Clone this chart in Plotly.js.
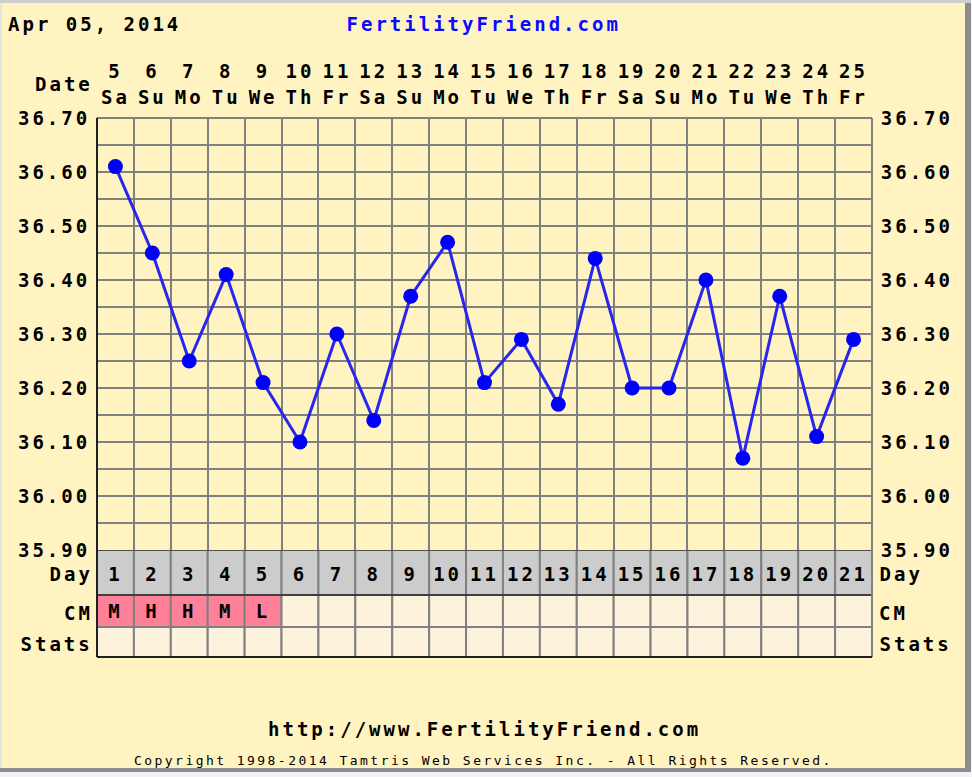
<!DOCTYPE html>
<html>
<head>
<meta charset="utf-8">
<script src="https://cdn.plot.ly/plotly-3.0.1.min.js"></script>
<style>
  html, body { margin: 0; padding: 0; background: #f2f2f6; }
  #chart { width: 972px; height: 777px; }
  .main-svg text { letter-spacing: 3px; }
</style>
</head>
<body>
<div id="chart"></div>
<script>
// ---- data ----
const chartDate = 'Apr 05, 2014';
const cycleDays = [1, 2, 3, 4, 5, 6, 7, 8, 9, 10, 11, 12, 13, 14, 15, 16, 17, 18, 19, 20, 21];
const dates = [5, 6, 7, 8, 9, 10, 11, 12, 13, 14, 15, 16, 17, 18, 19, 20, 21, 22, 23, 24, 25];
const weekdays = ['Sa', 'Su', 'Mo', 'Tu', 'We', 'Th', 'Fr', 'Sa', 'Su', 'Mo', 'Tu', 'We', 'Th', 'Fr', 'Sa', 'Su', 'Mo', 'Tu', 'We', 'Th', 'Fr'];
const temps = [36.61, 36.45, 36.25, 36.41, 36.21, 36.10, 36.30, 36.14, 36.37, 36.47, 36.21, 36.29, 36.17, 36.44, 36.20, 36.20, 36.40, 36.07, 36.37, 36.11, 36.29];
const cm = ['M', 'H', 'H', 'M', 'L', '', '', '', '', '', '', '', '', '', '', '', '', '', '', '', ''];
const tempGrid = [35.90, 35.95, 36.00, 36.05, 36.10, 36.15, 36.20, 36.25, 36.30, 36.35, 36.40, 36.45, 36.50, 36.55, 36.60, 36.65, 36.70];
const tempLabels = ['35.90', '', '36.00', '', '36.10', '', '36.20', '', '36.30', '', '36.40', '', '36.50', '', '36.60', '', '36.70'];
const rowNames = ['Day', 'CM', 'Stats'];

// ---- layout helpers (pixel -> paper) ----
const W = 972, H = 777;
const L = 97, R = 872, T = 118, B = 657, TEMP_BOTTOM = 550;
const PW = R - L, PH = B - T;
const xp = px => (px - L) / PW;
const yp = py => (B - py) / PH;
const tempDomainBottom = (B - TEMP_BOTTOM) / PH;

const FONT = 'DejaVu Sans Mono, Liberation Mono, monospace';
const FS = 19, LS = 3;
const tf = {family: FONT, size: FS, color: '#000000', weight: 'bold'};
const CHAR = FS * 0.602 + LS;          // advance per character incl. spacing
const inkW = s => s.length * CHAR - LS; // visible width of a label
const cRight = (s, px) => px - inkW(s) / 2 + LS / 2;
const cLeft = (s, px) => px + inkW(s) / 2 + LS / 2;

const YELLOW = '#fff3c2';
const GRID = '#808080';

// table rows in table units (0 top .. 107 bottom)
const rows = {day: [0, 45], cm: [45, 77], stats: [77, 107]};
const rowTextY = {Day: 24, CM: 63, Stats: 94};

const colEdges = cycleDays.map(d => d - 0.5).concat([cycleDays[cycleDays.length - 1] + 0.5]);
const xMin = colEdges[0], xMax = colEdges[colEdges.length - 1];

const shapes = [];
const rectPx = (x0, x1, y0, y1, c) => ({type: 'rect', xref: 'paper', yref: 'paper', x0: xp(x0), x1: xp(x1), y0: yp(y0), y1: yp(y1), fillcolor: c, line: {width: 0}, layer: 'below'});
shapes.push(rectPx(0, W, 0, 3, '#cfcfcf'));
shapes.push(rectPx(0, 2, 3, 777, '#e4e4e4'));
shapes.push(rectPx(965, 971, 3, 772, '#8c8c8c'));
shapes.push(rectPx(0, 971, 768, 772, '#8c8c8c'));
shapes.push(rectPx(0, W, 772, 777, '#f2f2f6'));
shapes.push(rectPx(971, W, 0, 777, '#f2f2f6'));

// table cells
cycleDays.forEach((d, i) => {
  shapes.push({type: 'rect', xref: 'x', yref: 'y2', x0: d - 0.5, x1: d + 0.5, y0: rows.day[0], y1: rows.day[1], fillcolor: '#cccccc', line: {color: GRID, width: 2}, layer: 'between'});
  shapes.push({type: 'rect', xref: 'x', yref: 'y2', x0: d - 0.5, x1: d + 0.5, y0: rows.cm[0], y1: rows.cm[1], fillcolor: cm[i] ? '#ff8099' : '#fdf3dd', line: {color: GRID, width: 2}, layer: 'between'});
  shapes.push({type: 'rect', xref: 'x', yref: 'y2', x0: d - 0.5, x1: d + 0.5, y0: rows.stats[0], y1: rows.stats[1], fillcolor: '#fdf3dd', line: {color: GRID, width: 2}, layer: 'between'});
});
shapes.push({type: 'line', xref: 'x', yref: 'y2', x0: xMin, x1: xMax, y0: rows.day[0], y1: rows.day[0], line: {color: '#505050', width: 2}, layer: 'between'});
shapes.push({type: 'line', xref: 'x', yref: 'y2', x0: xMin, x1: xMax, y0: rows.cm[0], y1: rows.cm[0], line: {color: '#404040', width: 2}, layer: 'between'});
shapes.push({type: 'line', xref: 'paper', yref: 'paper', x0: 1, x1: 1, y0: 0, y1: 1, line: {color: GRID, width: 2}, layer: 'above'});
shapes.push({type: 'line', xref: 'paper', yref: 'paper', x0: 0, x1: 1, y0: 1, y1: 1, line: {color: GRID, width: 2}, layer: 'above'});
shapes.push({type: 'line', xref: 'paper', yref: 'paper', x0: 0, x1: 0, y0: 0, y1: 1, line: {color: '#202020', width: 2}, layer: 'above'});
shapes.push({type: 'line', xref: 'paper', yref: 'paper', x0: 0, x1: 1, y0: 0, y1: 0, line: {color: '#202020', width: 2}, layer: 'above'});

const ann = [];
const txt = (text, x, y, font, yref) => ({text: text, xref: 'paper', yref: yref || 'paper', x: x, y: y, xanchor: 'center', yanchor: 'middle', showarrow: false, font: font || tf});
ann.push(txt(chartDate, xp(cLeft(chartDate, 8)), yp(24)));
ann.push(txt('FertilityFriend.com', xp(483), yp(24), Object.assign({}, tf, {color: '#0a0aff'})));
ann.push(txt('Date', xp(cRight('Date', 90)), yp(84)));
rowNames.forEach(t => {
  ann.push(txt(t, xp(cRight(t, 90)), rowTextY[t], tf, 'y2'));
  ann.push(txt(t, xp(cLeft(t, 879)), rowTextY[t], tf, 'y2'));
});
ann.push(txt('http://www.FertilityFriend.com', xp(484), yp(729)));
ann.push(txt('<span style="letter-spacing:2.45px">Copyright 1998-2014 Tamtris Web Services Inc. - All Rights Reserved.</span>', xp(483), yp(760), {family: FONT, size: 13, color: '#000000'}));

const traces = [
  {
    x: cycleDays, y: temps, xaxis: 'x', yaxis: 'y', type: 'scatter', mode: 'lines+markers',
    line: {color: '#2626f0', width: 3}, marker: {color: '#0000ff', size: 15},
    hoverinfo: 'skip', showlegend: false
  },
  {
    x: cycleDays, y: cycleDays.map(() => 26), xaxis: 'x', yaxis: 'y2', type: 'scatter', mode: 'text',
    text: cycleDays.map(String), textfont: tf, textposition: 'middle center', hoverinfo: 'skip', showlegend: false
  },
  {
    x: cycleDays, y: cycleDays.map(() => 63), xaxis: 'x', yaxis: 'y2', type: 'scatter', mode: 'text',
    text: cm, textfont: tf, textposition: 'middle center', hoverinfo: 'skip', showlegend: false
  },
  {x: cycleDays, y: temps, xaxis: 'x2', yaxis: 'y', type: 'scatter', mode: 'markers', marker: {opacity: 0}, hoverinfo: 'skip', showlegend: false},
  {x: cycleDays, y: temps, xaxis: 'x3', yaxis: 'y3', type: 'scatter', mode: 'markers', marker: {opacity: 0}, hoverinfo: 'skip', showlegend: false}
];

const clear = 'rgba(0,0,0,0)';
const layout = {
  width: W, height: H,
  margin: {l: L, r: W - R, t: T, b: H - B, pad: 0},
  paper_bgcolor: YELLOW, plot_bgcolor: YELLOW,
  showlegend: false,
  xaxis: {
    domain: [0, 1], range: [xMin, xMax], anchor: 'y',
    tickmode: 'array', tickvals: colEdges, showticklabels: false, ticks: '',
    showgrid: true, gridcolor: GRID, gridwidth: 2, zeroline: false, showline: false, fixedrange: true
  },
  xaxis2: {
    overlaying: 'x', side: 'top', anchor: 'y', range: [xMin, xMax],
    tickmode: 'array', tickvals: cycleDays, ticktext: weekdays, tickfont: tf,
    ticks: 'outside', ticklen: 5, tickcolor: clear, showgrid: false, zeroline: false, showline: false
  },
  xaxis3: {
    overlaying: 'x', side: 'top', anchor: 'y', range: [xMin, xMax],
    tickmode: 'array', tickvals: cycleDays, ticktext: dates.map(String), tickfont: tf,
    ticks: 'outside', ticklen: 31, tickcolor: clear, showgrid: false, zeroline: false, showline: false
  },
  yaxis: {
    domain: [tempDomainBottom, 1], range: [35.90, 36.70], anchor: 'x',
    tickmode: 'array', tickvals: tempGrid, ticktext: tempLabels, tickfont: tf,
    ticks: 'outside', ticklen: 2, tickcolor: clear,
    showgrid: true, gridcolor: GRID, gridwidth: 2, zeroline: false, showline: false
  },
  yaxis3: {
    overlaying: 'y', side: 'right', anchor: 'x', range: [35.90, 36.70],
    tickmode: 'array', tickvals: tempGrid, ticktext: tempLabels, tickfont: tf,
    ticks: 'outside', ticklen: 4, tickcolor: clear,
    showgrid: false, zeroline: false, showline: false
  },
  yaxis2: {
    domain: [0, tempDomainBottom], range: [rows.stats[1], rows.day[0]], anchor: 'x',
    showticklabels: false, ticks: '', showgrid: false, zeroline: false, showline: false
  },
  shapes: shapes,
  annotations: ann
};

Plotly.newPlot('chart', traces, layout, {staticPlot: true, displayModeBar: false});
</script>
</body>
</html>
